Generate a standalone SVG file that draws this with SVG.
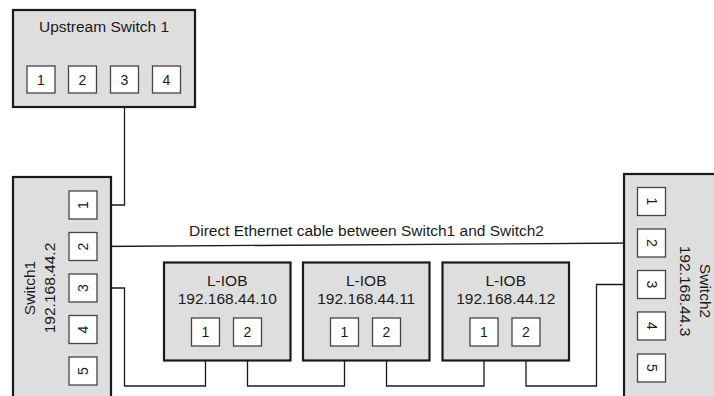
<svg xmlns="http://www.w3.org/2000/svg" width="714" height="396" viewBox="0 0 714 396">
<style>
.box{fill:#dedede;stroke:#1a1a1a;stroke-width:2.2}
.port{fill:#ffffff;stroke:#444444;stroke-width:1.3}
.lbl{font-family:"Liberation Sans",Arial,sans-serif;font-size:15.5px;fill:#1a1a1a;text-anchor:middle}
.pn{font-family:"Liberation Sans",Arial,sans-serif;font-size:14px;fill:#1a1a1a;text-anchor:middle}
.wire{fill:none;stroke:#1a1a1a;stroke-width:1.3}
</style>
<rect width="714" height="396" fill="#ffffff"/>
<g id="connectors">
<path class="wire" d="M124.5 93 V205 H97"/>
<path class="wire" d="M97 246.5 L637.5 243"/>
<path class="wire" d="M97 288 H124.5 V386 H205.5 V346"/>
<path class="wire" d="M247.5 346 V386 H344.5 V346"/>
<path class="wire" d="M386.5 346 V386 H484 V346"/>
<path class="wire" d="M526 346 V386 H596.5 V284.5 H637.5"/>
<text x="189" y="236" font-family="Liberation Sans, Arial, sans-serif" font-size="15.5" fill="#1a1a1a">Direct Ethernet cable between Switch1 and Switch2</text>
</g>
<g id="upstream">
<rect class="box" x="13" y="10" width="182" height="97"/>
<text class="lbl" x="104" y="32">Upstream Switch 1</text>
<rect class="port" x="27" y="66" width="28" height="27"/><text class="pn" x="41" y="85">1</text>
<rect class="port" x="68.5" y="66" width="28" height="27"/><text class="pn" x="82.5" y="85">2</text>
<rect class="port" x="110.5" y="66" width="28" height="27"/><text class="pn" x="124.5" y="85">3</text>
<rect class="port" x="152.5" y="66" width="28" height="27"/><text class="pn" x="166.5" y="85">4</text>
</g>
<g id="switch1">
<rect class="box" x="13" y="177" width="98" height="240"/>
<text class="lbl" transform="translate(35 288) rotate(-90)">Switch1</text>
<text class="lbl" transform="translate(55 288) rotate(-90)">192.168.44.2</text>
<rect class="port" x="69" y="191" width="28" height="28"/><text class="pn" transform="translate(88 205) rotate(-90)">1</text>
<rect class="port" x="69" y="232.5" width="28" height="28"/><text class="pn" transform="translate(88 246.5) rotate(-90)">2</text>
<rect class="port" x="69" y="274" width="28" height="28"/><text class="pn" transform="translate(88 288) rotate(-90)">3</text>
<rect class="port" x="69" y="315.5" width="28" height="28"/><text class="pn" transform="translate(88 329.5) rotate(-90)">4</text>
<rect class="port" x="69" y="357" width="28" height="28"/><text class="pn" transform="translate(88 371) rotate(-90)">5</text>
</g>
<g id="switch2">
<rect class="box" x="624" y="174" width="100" height="240"/>
<text class="lbl" transform="translate(700 291) rotate(90)">Switch2</text>
<text class="lbl" transform="translate(680 291) rotate(90)">192.168.44.3</text>
<rect class="port" x="637.5" y="187.5" width="28" height="28"/><text class="pn" transform="translate(646.5 201.5) rotate(90)">1</text>
<rect class="port" x="637.5" y="229" width="28" height="28"/><text class="pn" transform="translate(646.5 243) rotate(90)">2</text>
<rect class="port" x="637.5" y="270.5" width="28" height="28"/><text class="pn" transform="translate(646.5 284.5) rotate(90)">3</text>
<rect class="port" x="637.5" y="312" width="28" height="28"/><text class="pn" transform="translate(646.5 326) rotate(90)">4</text>
<rect class="port" x="637.5" y="354" width="28" height="28"/><text class="pn" transform="translate(646.5 368) rotate(90)">5</text>
</g>
<g id="liob1">
<rect class="box" x="164" y="262.5" width="126.5" height="98"/>
<text class="lbl" x="227.25" y="286">L-IOB</text>
<text class="lbl" x="227.25" y="304">192.168.44.10</text>
<rect class="port" x="191.5" y="318" width="28" height="28"/><text class="pn" x="205.5" y="337">1</text>
<rect class="port" x="233.5" y="318" width="28" height="28"/><text class="pn" x="247.5" y="337">2</text>
</g>
<g id="liob2">
<rect class="box" x="303" y="262.5" width="126.5" height="98"/>
<text class="lbl" x="366.25" y="286">L-IOB</text>
<text class="lbl" x="366.25" y="304">192.168.44.11</text>
<rect class="port" x="330.5" y="318" width="28" height="28"/><text class="pn" x="344.5" y="337">1</text>
<rect class="port" x="372.5" y="318" width="28" height="28"/><text class="pn" x="386.5" y="337">2</text>
</g>
<g id="liob3">
<rect class="box" x="442.5" y="262.5" width="126.5" height="98"/>
<text class="lbl" x="505.75" y="286">L-IOB</text>
<text class="lbl" x="505.75" y="304">192.168.44.12</text>
<rect class="port" x="470" y="318" width="28" height="28"/><text class="pn" x="484" y="337">1</text>
<rect class="port" x="512" y="318" width="28" height="28"/><text class="pn" x="526" y="337">2</text>
</g>
</svg>
